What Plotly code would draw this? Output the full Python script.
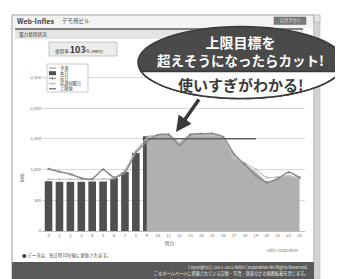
import plotly.graph_objects as go
import numpy as np

hours = list(range(24))
hour_labels = [str(h) for h in hours]

today_hours = list(range(0, 10))
today_kwh = [810, 800, 800, 800, 805, 805, 860, 960, 1270, 1540]

forecast_hours = list(range(9, 24))
forecast_kwh = [1540, 1555, 1560, 1420, 1560, 1565, 1565, 1520, 1230, 1080, 950, 800, 840, 900, 850]

prevday_kwh = [1010, 965, 925, 860, 845, 1000, 870, 950, 1275, 1450, 1560, 1570, 1400, 1570,
               1580, 1585, 1530, 1250, 1080, 900, 790, 850, 955, 870]
lastweek_kwh = [840, 840, 840, 840, 840, 845, 860, 990, 1300, 1500, 1550, 1560, 1450, 1560,
                1560, 1560, 1520, 1200, 1100, 1000, 870, 880, 900, 850]

limit_hours = list(range(9, 20))
limit_kwh = [1500] * len(limit_hours)

y_ticks = [0, 500, 1000, 1500, 2000, 2500]
y_tick_labels = ["0", "500", "1,000", "1,500", "2,000", "2,500"]

W, H = 343, 279
OFF = 8  # page body margin of the browser
L, R, T, B = 42, 305, 65, 231
FONT = "Noto Sans CJK JP"


def px(x):
    return (x - L) / (R - L)


def py(y):
    return (B - y) / (B - T)


fig = go.Figure()

fig.add_trace(go.Scatter(x=forecast_hours, y=forecast_kwh, mode="lines", fill="tozeroy",
                         line=dict(color="#a6a6a6", width=1, shape="spline", smoothing=0.6),
                         fillcolor="#b0b0b0", name="予測", showlegend=False))
fig.add_trace(go.Bar(x=today_hours, y=today_kwh, width=0.7, marker_color="#505050",
                     marker_line_width=0, name="本日", showlegend=False))
fig.add_trace(go.Scatter(x=hours, y=lastweek_kwh, mode="lines+markers",
                         line=dict(color="#c4c4c4", width=1.3, shape="spline", smoothing=0.5),
                         marker=dict(size=2.5, color="#c4c4c4"), name="前週同曜日", showlegend=False))
fig.add_trace(go.Scatter(x=hours, y=prevday_kwh, mode="lines+markers",
                         line=dict(color="#8c8c8c", width=1.6, shape="spline", smoothing=0.5),
                         marker=dict(size=2.5, color="#8c8c8c"), name="前日", showlegend=False))
fig.add_trace(go.Scatter(x=limit_hours, y=limit_kwh, mode="lines",
                         line=dict(color="#606060", width=1.6), name="上限値", showlegend=False))

shapes = []
ann = []


def rect(x0, y0, x1, y1, fill, line=None, lw=0, layer="below"):
    shapes.append(dict(type="rect", xref="paper", yref="paper", x0=px(x0), x1=px(x1),
                       y0=py(y1), y1=py(y0), fillcolor=fill, layer=layer,
                       line=dict(color=line or fill, width=lw)))


def hline(x0, x1, y, color, w, layer="below"):
    shapes.append(dict(type="line", xref="paper", yref="paper", x0=px(x0), x1=px(x1),
                       y0=py(y), y1=py(y), layer=layer, line=dict(color=color, width=w)))


def text(x, y, s, size, color="#333", xanchor="left", bold=False, textangle=0):
    if bold:
        s = "<b>" + s + "</b>"
    ann.append(dict(xref="paper", yref="paper", x=px(x), y=py(y), text=s, showarrow=False,
                    xanchor=xanchor, yanchor="middle", textangle=textangle,
                    font=dict(family=FONT, size=size, color=color)))


# window frame
rect(12, 15, 314, 279, "white", "#9a9a9a", 1)
rect(13, 16, 313, 28, "#f3f3f3")
text(15, 21, "Web-Inflex", 7, "#444", bold=True)
text(60, 21, "デモ用ビル", 5.5, "#444")
rect(274, 17, 306, 24.5, "#7a7a7a", "#666", 0.5)
text(290, 20.8, "ログアウト", 4.2, "white", xanchor="center")
hline(15, 303, 29, "#555", 1.3)
rect(15, 30, 303, 39, "#e4e4e4")
text(17, 34.5, "電力使用状況", 4.6, "#333")
rect(49, 42, 117, 56, "#ececec", "#aaa", 0.6)
text(53, 49.5, "使用率 <span style='font-size:9px'><b>103</b></span>% <span style='font-size:3.8px'>(9時台)</span>", 4.6, "#333")
# scrollbar
rect(314, 15, 320, 279, "#d2d2d2", "#bbb", 0.5)
rect(314, 15, 320, 22, "#e6e6e6", "#999", 0.5)
# footer
rect(12, 262, 314, 279, "#595959")
text(310, 267, "Copyright(C) 2011-2012 Azbil Corporation All Rights Reserved.", 4.2, "#eee", xanchor="right")
text(310, 273, "このホームページに掲載されている記事・写真・図表などの無断転載を禁じます。", 4.2, "#eee", xanchor="right")
text(300, 250, "Azbil Corporation", 3.8, "#777", xanchor="right")
text(20, 255, "● データは、毎正時10分後に更新されます。", 4.4, "#444")
text(22, 178, "kWh", 4.2, "#666", xanchor="center", textangle=-90)
text(170, 243, "時台", 4.6, "#555", xanchor="center")

# manual legend
rect(47, 64, 88, 92, "white", "#aaa", 0.6, layer="above")
leg = [("予測", "line", "#a0a0a0"), ("本日", "box", "#505050"), ("前日", "plus", "#8c8c8c"),
       ("前週同曜日", "plus", "#c0c0c0"), ("上限値", "line", "#606060")]
for i, (name, kind, col) in enumerate(leg):
    yy = 68 + i * 5.2
    if kind == "box":
        rect(49, yy - 2, 56, yy + 2, col, layer="above")
    else:
        hline(49, 56, yy, col, 1.2, layer="above")
        if kind == "plus":
            shapes.append(dict(type="line", xref="paper", yref="paper", x0=px(52.5), x1=px(52.5),
                               y0=py(yy - 1.8), y1=py(yy + 1.8), layer="above",
                               line=dict(color=col, width=0.8)))
    text(58, yy, name, 4.2, "#444")

# callout bubble
cx, cy, rx, ry = 241, 62.5, 103, 36
shapes.append(dict(type="circle", xref="paper", yref="paper", x0=px(cx - rx), x1=px(cx + rx),
                   y0=py(cy + ry), y1=py(cy - ry), fillcolor="#4a4a4a", layer="above",
                   line=dict(color="#3a3a3a", width=1.5)))
ycut = 71.5
t0 = np.arcsin((ycut - cy) / ry)
ts = np.linspace(t0, np.pi - t0, 60)
pts = [(cx + rx * np.cos(t), cy + ry * np.sin(t)) for t in ts]
path = "M {:.5f},{:.5f} ".format(px(pts[-1][0]), py(pts[-1][1]))
path += "L {:.5f},{:.5f} ".format(px(pts[0][0]), py(pts[0][1]))
for (xx, yy) in pts[1:]:
    path += "L {:.5f},{:.5f} ".format(px(xx), py(yy))
path += "Z"
shapes.append(dict(type="path", xref="paper", yref="paper", path=path, fillcolor="white",
                   layer="above", line=dict(color="#3a3a3a", width=1.6)))
text(240, 50.5, "<span style='font-size:14px'>上限目標を</span><br>超えそうになったらカット!",
     13.5, "white", xanchor="center", bold=True)
text(241, 84.5, "使いすぎがわかる!", 15, "#3a3a3a", xanchor="center", bold=True)

ann.append(dict(xref="paper", yref="paper", x=px(176), y=py(132), ax=24, ay=-34, text="",
                showarrow=True, arrowhead=2, arrowsize=0.9, arrowwidth=3.5, arrowcolor="#3a3a3a"))

fig.update_layout(
    width=W - OFF, height=H - OFF, margin=dict(l=L - OFF, r=W - R, t=T - OFF, b=H - B),
    paper_bgcolor="white", plot_bgcolor="white", showlegend=False, bargap=0.3,
    xaxis=dict(range=[-0.6, 23.5], tickmode="array", tickvals=hours, ticktext=hour_labels,
               tickfont=dict(size=4.2, color="#666", family=FONT), showgrid=False,
               showline=True, linecolor="#bbb", linewidth=0.6, ticks="", zeroline=False, fixedrange=True),
    yaxis=dict(range=[0, 2700], tickmode="array", tickvals=y_ticks, ticktext=y_tick_labels,
               tickfont=dict(size=4.2, color="#666", family=FONT), showgrid=True,
               gridcolor="#d8d8d8", gridwidth=0.6, zeroline=False, ticks="", fixedrange=True),
    shapes=shapes, annotations=ann,
)

fig.write_html("out.html")
